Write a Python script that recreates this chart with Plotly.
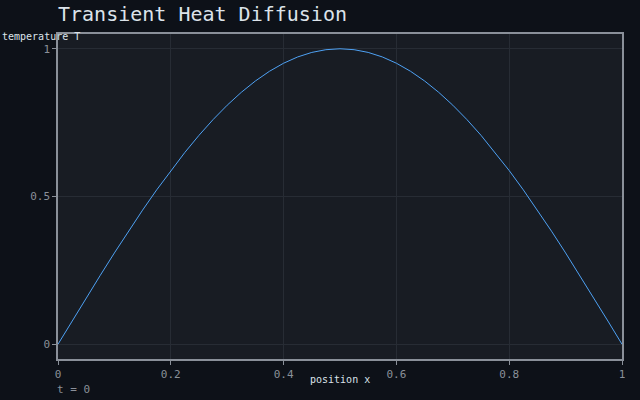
import plotly.graph_objects as go

x_pos = [0, 0.025, 0.05, 0.075, 0.1, 0.125, 0.15, 0.175, 0.2, 0.225, 0.25, 0.275, 0.3, 0.325, 0.35,
         0.375, 0.4, 0.425, 0.45, 0.475, 0.5, 0.525, 0.55, 0.575, 0.6, 0.625, 0.65, 0.675, 0.7,
         0.725, 0.75, 0.775, 0.8, 0.825, 0.85, 0.875, 0.9, 0.925, 0.95, 0.975, 1.0]
temperature = [0, 0.0785, 0.1564, 0.2334, 0.309, 0.3827, 0.454, 0.5225, 0.5878, 0.6494, 0.7071,
               0.7604, 0.809, 0.8526, 0.891, 0.9239, 0.9511, 0.9724, 0.9877, 0.9969, 1.0,
               0.9969, 0.9877, 0.9724, 0.9511, 0.9239, 0.891, 0.8526, 0.809, 0.7604, 0.7071,
               0.6494, 0.5878, 0.5225, 0.454, 0.3827, 0.309, 0.2334, 0.1564, 0.0785, 0]
x_ticks = [0, 0.2, 0.4, 0.6, 0.8, 1]
x_tick_labels = ["0", "0.2", "0.4", "0.6", "0.8", "1"]
y_ticks = [0, 0.5, 1]
y_tick_labels = ["0", "0.5", "1"]

FONT = "DejaVu Sans Mono"
fig = go.Figure()
fig.add_trace(go.Scatter(x=x_pos, y=temperature, mode="lines",
                         line=dict(color="#4ea1f3", width=1), hoverinfo="skip"))

axis_common = dict(showline=True, linecolor="#8a9099", linewidth=1.5, mirror=True,
                   gridcolor="#272c34", gridwidth=1, zeroline=False,
                   ticks="outside", ticklen=4, tickcolor="#8a9099",
                   tickfont=dict(family=FONT, size=11, color="#8a9099"))
fig.update_xaxes(range=[0, 1], tickvals=x_ticks, ticktext=x_tick_labels, **axis_common)
fig.update_yaxes(range=[-0.05, 1.05], tickvals=y_ticks, ticktext=y_tick_labels, **axis_common)

fig.update_layout(
    width=640, height=400, margin=dict(l=58, r=18, t=34, b=41),
    paper_bgcolor="#0d1118", plot_bgcolor="#181c23", showlegend=False,
    annotations=[
        dict(text="Transient Heat Diffusion", xref="paper", yref="paper", x=0, y=1,
             xanchor="left", yanchor="bottom", yshift=6, xshift=-2, showarrow=False,
             font=dict(family=FONT, size=20, color="#dce3ea")),
        dict(text="temperature T", xref="paper", yref="paper", x=0, y=1,
             xanchor="left", yanchor="middle", xshift=-58, yshift=-2, showarrow=False,
             font=dict(family=FONT, size=10, color="#dce3ea")),
        dict(text="position x", xref="paper", yref="paper", x=0.5, y=0,
             xanchor="center", yanchor="middle", yshift=-20, showarrow=False,
             font=dict(family=FONT, size=10, color="#dce3ea")),
        dict(text="t = 0", xref="paper", yref="paper", x=0, y=0,
             xanchor="left", yanchor="middle", yshift=-30, xshift=-3, showarrow=False,
             font=dict(family=FONT, size=11, color="#8a9099")),
    ],
)
fig.write_html("out.html")
